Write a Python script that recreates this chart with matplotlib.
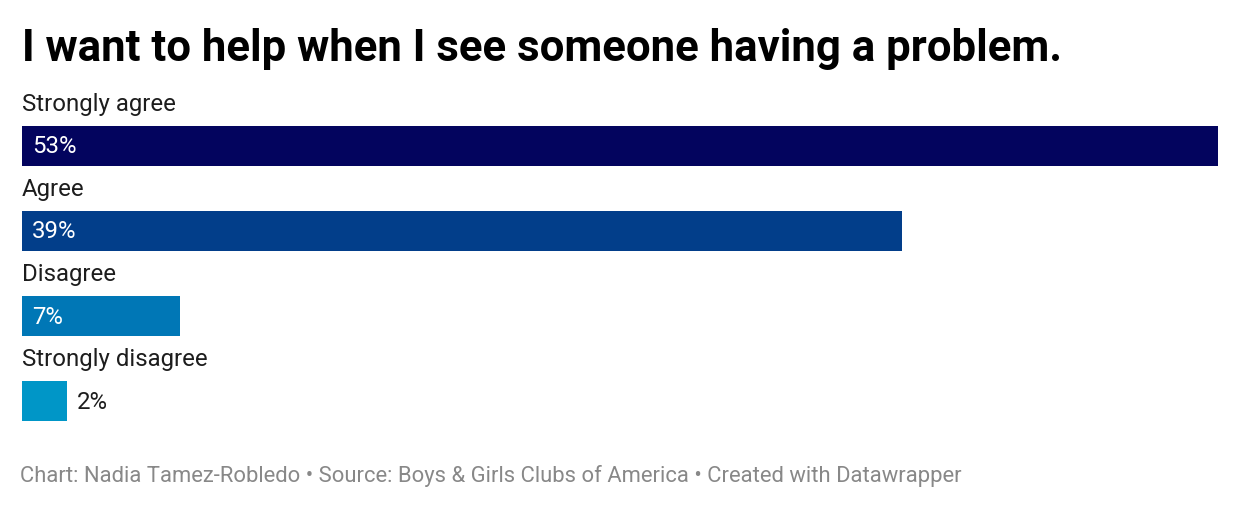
import matplotlib.pyplot as plt

# data
categories = ["Strongly agree", "Agree", "Disagree", "Strongly disagree"]
values = [53, 39, 7, 2]
colors = ["#03045e", "#023e8a", "#0077b6", "#0096c7"]

title = "I want to help when I see someone having a problem."
footer = "Chart: Nadia Tamez-Robledo • Source: Boys & Girls Clubs of America • Created with Datawrapper"

plt.rcParams['font.family'] = ['Roboto', 'DejaVu Sans']

W, H = 1240, 508
fig = plt.figure(figsize=(W / 100, H / 100), dpi=100)
fig.patch.set_facecolor("white")

# axes area in pixels: bars from x=22 to 1218, y from 126 to 421
left, right, top, bottom = 22, 1218, 126, 421
ax = fig.add_axes([left / W, 1 - bottom / H, (right - left) / W, (bottom - top) / H])
bar_h = 0.469
ypos = list(range(len(categories)))
ax.barh(ypos, values, height=bar_h, color=colors)
ax.set_xlim(0, max(values))
ax.set_ylim(len(categories) - 1 + bar_h / 2, -bar_h / 2)
ax.axis("off")

fs = 17.3
for i, (cat, v) in enumerate(zip(categories, values)):
    # category label above bar
    ax.annotate(cat, xy=(0, i - bar_h / 2), xytext=(0, 22), textcoords="offset pixels",
                ha="left", va="center", fontsize=fs, color="#1d1d1d")
    label = f"{v}%"
    if v >= 5:
        ax.annotate(label, xy=(0, i), xytext=(10, -1), textcoords="offset pixels",
                    ha="left", va="center", fontsize=fs, color="white")
    else:
        ax.annotate(label, xy=(v, i), xytext=(10, -1), textcoords="offset pixels",
                    ha="left", va="center", fontsize=fs, color="#1d1d1d")

fig.text(22 / W, 1 - 61 / H, title, ha="left", va="baseline",
         fontsize=31.5, fontweight="bold", color="black")
fig.text(20 / W, 1 - 482 / H, footer, ha="left", va="baseline",
         fontsize=15.85, color="#888888")

fig.savefig("out.png", dpi=100, facecolor="white")
